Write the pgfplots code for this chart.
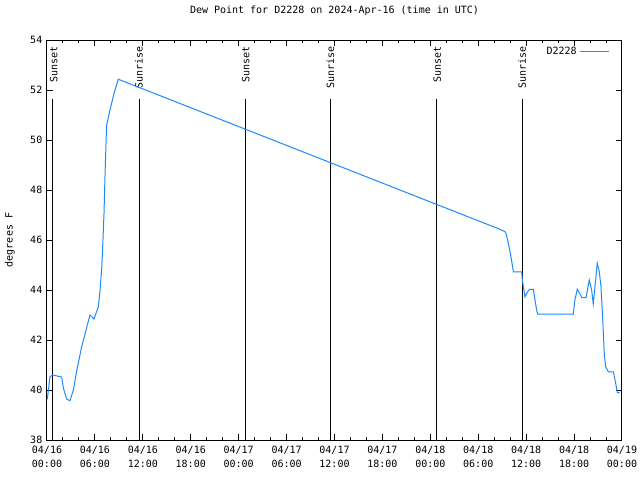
\documentclass[border=0pt]{standalone}
\usepackage{fontspec}
\setmainfont{DejaVu Sans Mono}
\usepackage{pgfplots}
\pgfplotsset{compat=1.18}
\definecolor{dewblue}{RGB}{30,136,255}
\newcommand{\gf}{\fontsize{7.5}{10.5}\selectfont}
\begin{document}
\begin{tikzpicture}
\useasboundingbox (0,0) rectangle (480pt,360pt);
\begin{axis}[
  at={(35.25pt,30pt)}, anchor=south west,
  scale only axis, width=431.25pt, height=300pt,
  xmin=0, xmax=72, ymin=38, ymax=54,
  xtick={0,6,...,72},
  xticklabels={{04/16\\00:00},{04/16\\06:00},{04/16\\12:00},{04/16\\18:00},{04/17\\00:00},{04/17\\06:00},{04/17\\12:00},{04/17\\18:00},{04/18\\00:00},{04/18\\06:00},{04/18\\12:00},{04/18\\18:00},{04/19\\00:00}},
  minor x tick num=2,
  ytick={38,40,...,54},
  tick align=inside,
  major tick length=4.5pt, minor tick length=2.25pt,
  tick style={black, line width=0.75pt},
  axis line style={black, line width=0.75pt},
  xticklabel style={align=center, font=\gf, yshift=-1pt},
  yticklabel style={font=\gf},
  /pgf/number format/assume math mode=true,
  title={Dew Point for D2228 on 2024-Apr-16 (time in UTC)},
  title style={font=\gf, at={(axis description cs:0.5,1)}, anchor=center, yshift=15.75pt},
  ylabel={degrees F},
  ylabel style={font=\gf, at={(axis description cs:0,0.5)}, anchor=center, yshift=27.75pt},
  legend style={draw=none, fill=none, font=\gf, at={(1,1)}, anchor=north east, xshift=-6pt, yshift=-1pt},
  legend plot pos=right,
  legend image code/.code={\draw[#1] (0cm,0cm) -- (22pt,0cm);},
]
\addplot[forget plot, black, line width=0.75pt] coordinates {(0.75,38) (0.75,51.65)};
\addplot[forget plot, black, line width=0.75pt] coordinates {(11.55,38) (11.55,51.65)};
\addplot[forget plot, black, line width=0.75pt] coordinates {(24.8,38) (24.8,51.65)};
\addplot[forget plot, black, line width=0.75pt] coordinates {(35.55,38) (35.55,51.65)};
\addplot[forget plot, black, line width=0.75pt] coordinates {(48.75,38) (48.75,51.65)};
\addplot[forget plot, black, line width=0.75pt] coordinates {(59.55,38) (59.55,51.65)};
\node[rotate=90, anchor=east, font=\gf, inner sep=0pt] at (axis cs:0.85,53.75) {Sunset};
\node[rotate=90, anchor=east, font=\gf, inner sep=0pt] at (axis cs:11.5,53.75) {Sunrise};
\node[rotate=90, anchor=east, font=\gf, inner sep=0pt] at (axis cs:24.9,53.75) {Sunset};
\node[rotate=90, anchor=east, font=\gf, inner sep=0pt] at (axis cs:35.5,53.75) {Sunrise};
\node[rotate=90, anchor=east, font=\gf, inner sep=0pt] at (axis cs:48.85,53.75) {Sunset};
\node[rotate=90, anchor=east, font=\gf, inner sep=0pt] at (axis cs:59.5,53.75) {Sunrise};
\addplot[dewblue, line width=0.75pt] coordinates {
(0.04,39.63) (0.37,40.53) (0.71,40.6) (1.84,40.52) (2.05,40.08) (2.46,39.64)
(2.88,39.57) (3.3,40.0) (3.7,40.73) (4.34,41.73) (5.38,43.0) (5.88,42.84)
(6.43,43.33) (6.64,44.0) (6.84,44.8) (6.97,45.68) (7.14,47.08) (7.26,48.53)
(7.39,49.87) (7.47,50.6) (7.89,51.2) (8.39,51.87) (8.93,52.43)
(56.7,46.43) (57.35,46.33) (57.47,46.27) (57.77,45.87) (58.06,45.4) (58.4,44.73)
(59.44,44.73) (59.52,44.4) (59.85,43.73) (60.07,43.87) (60.4,44.03) (60.9,44.03)
(61.1,43.6) (61.32,43.2) (61.44,43.04) (65.9,43.04) (66.1,43.6) (66.4,44.03)
(66.83,43.8) (66.95,43.7) (67.5,43.7) (67.9,44.4) (68.2,44.0) (68.4,43.44)
(68.6,44.07) (68.9,45.07) (69.16,44.73) (69.37,44.13) (69.58,42.87) (69.79,41.4)
(69.96,40.93) (70.3,40.73) (70.92,40.73) (71.25,40.2) (71.42,39.89) (71.7,39.9)
};
\addlegendentry{D2228}
\end{axis}
\end{tikzpicture}
\end{document}
